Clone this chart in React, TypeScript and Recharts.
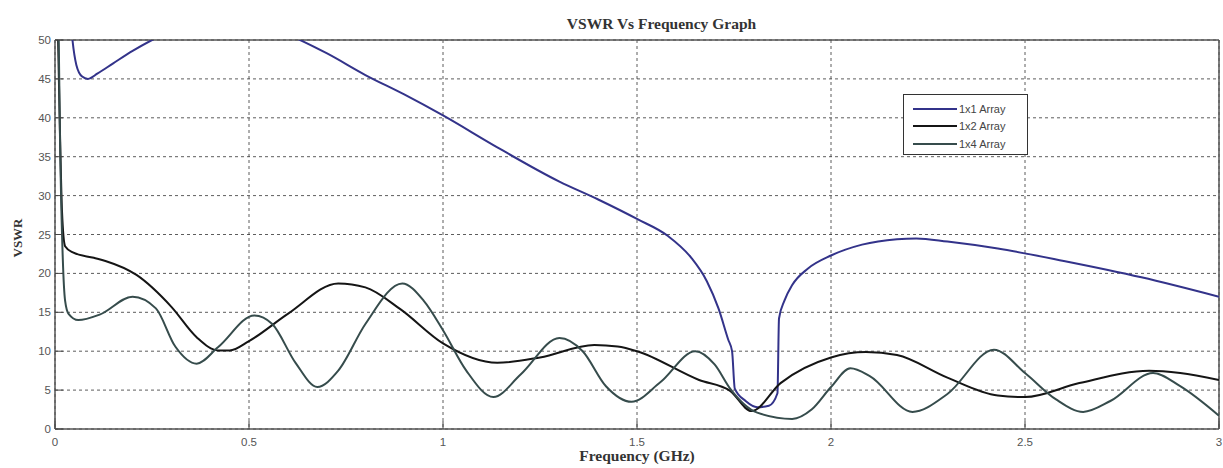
import React from 'react';
import { LineChart, Line, XAxis, YAxis, CartesianGrid, ReferenceLine } from 'recharts';

const xTicks = [0, 0.5, 1, 1.5, 2, 2.5, 3];
const yTicks = [0, 5, 10, 15, 20, 25, 30, 35, 40, 45, 50];

const freq1x1 = [0.035, 0.045, 0.055, 0.07, 0.085, 0.11, 0.15, 0.2, 0.25, 0.3, 0.4, 0.5, 0.6, 0.7, 0.8, 0.9, 1.0, 1.14, 1.3, 1.4, 1.5, 1.58, 1.64, 1.68, 1.71, 1.735, 1.745, 1.752, 1.78, 1.81, 1.84, 1.862, 1.866, 1.88, 1.9, 1.94, 2.0, 2.08, 2.17, 2.22, 2.3, 2.43, 2.6, 2.8, 3.0];
const vswr1x1 = [56, 50, 46.8, 45.3, 45, 45.7, 47, 48.6, 50, 51.2, 52.5, 52.5, 50.7, 48.3, 45.5, 43, 40.3, 36.2, 31.8, 29.5, 27, 24.8, 22, 19, 15.5, 11.5, 10, 5.2, 3.6, 2.8, 3.0, 4.6, 14.2, 16.5, 18.5, 20.6, 22.3, 23.7, 24.4, 24.5, 24.1, 23.2, 21.6, 19.5, 17];

const freq1x2 = [0.004, 0.012, 0.018, 0.026, 0.046, 0.1, 0.13, 0.21, 0.3, 0.365, 0.42, 0.45, 0.5, 0.6, 0.73, 0.8, 0.89, 1.0, 1.14, 1.25, 1.39, 1.45, 1.5, 1.66, 1.74, 1.795, 1.87, 2.0, 2.09, 2.17, 2.3, 2.43, 2.5, 2.64, 2.82, 2.9, 3.0];
const vswr1x2 = [60, 40, 28, 23.5, 22.7, 22, 21.6, 19.8, 15.7, 11.8, 10.1, 10.1, 11.3, 14.8, 18.7, 18.2, 15.4, 11, 8.5, 9.2, 10.8, 10.6, 10, 6.3, 4.9, 2.3, 5.9, 9.2, 9.9, 9.5, 6.6, 4.3, 4.1, 5.9, 7.5, 7.2, 6.3];

const freq1x4 = [0.007, 0.013, 0.02, 0.026, 0.035, 0.06, 0.115, 0.2, 0.26, 0.31, 0.365, 0.42, 0.514, 0.56, 0.62, 0.676, 0.73, 0.8, 0.895, 0.95, 1.0, 1.06, 1.13, 1.2, 1.3, 1.36, 1.42, 1.486, 1.56, 1.65, 1.7, 1.74, 1.81, 1.9, 1.95, 2.0, 2.05, 2.1, 2.21, 2.3, 2.42, 2.5, 2.58, 2.65, 2.72, 2.83, 2.9, 3.0];
const vswr1x4 = [60, 37, 22, 16.5, 14.8, 14, 14.7, 17, 15.5, 10.6, 8.4, 10.5, 14.6, 13.5, 8.5, 5.4, 7.5, 13.5, 18.7, 16.5, 12.7, 7.5, 4.1, 7, 11.7, 10, 5.5, 3.5, 6, 10, 8.3, 5.2, 2.1, 1.3, 2.5, 5.4, 7.8, 6.8, 2.2, 4.5, 10.2, 7.2, 3.8, 2.2, 3.6, 7.2, 5.5, 1.7];

const seriesNames = ['1x1 Array', '1x2 Array', '1x4 Array'];
const seriesColors = ['#33338a', '#151515', '#364c4c'];

const build = (f: number[], v: number[]) => f.map((x, i) => ({ f: x, v: v[i] }));
const data1x1 = build(freq1x1, vswr1x1);
const data1x2 = build(freq1x2, vswr1x2);
const data1x4 = build(freq1x4, vswr1x4);

const tickFont = { fontFamily: 'Liberation Sans, Arial, sans-serif', fontSize: 11.5, fill: '#555' };
const serif = 'Liberation Serif, Times New Roman, serif';

const XTick = (props: any) => {
  const { x, y, payload } = props;
  return (
    <g>
      <line x1={x} x2={x} y1={y} y2={y - 8} stroke="#444" strokeWidth={1} />
      <text x={x} y={y + 17} textAnchor="middle" style={tickFont}>{String(payload.value)}</text>
    </g>
  );
};

const YTick = (props: any) => {
  const { x, y, payload } = props;
  return (
    <g>
      <line x1={x} x2={x + 8} y1={y} y2={y} stroke="#444" strokeWidth={1} />
      <text x={x - 4} y={y + 4} textAnchor="end" style={tickFont}>{String(payload.value)}</text>
    </g>
  );
};

const LegendBox = () => (
  <div style={{ position: 'absolute', left: 903, top: 94, width: 125, height: 61, border: '1px solid #333', background: '#fff', boxSizing: 'border-box', paddingTop: 5 }}>
    {seriesNames.map((n, i) => (
      <div key={n} style={{ display: 'flex', alignItems: 'center', height: 17.5 }}>
        <div style={{ marginLeft: 9, width: 44, height: 2, background: seriesColors[i] }} />
        <span style={{ marginLeft: 2, fontFamily: 'Liberation Sans, Arial, sans-serif', fontSize: 11, color: '#444' }}>{n}</span>
      </div>
    ))}
  </div>
);

export default function App() {
  return (
    <div style={{ position: 'absolute', left: 0, top: 0, width: 1223, height: 468, background: '#fff', overflow: 'hidden' }}>
      <div style={{ position: 'absolute', left: 0, top: 0 }}>
        <LineChart width={1223} height={468} margin={{ top: 40, right: 4, bottom: 0, left: 0 }}>
          <CartesianGrid stroke="#333" strokeDasharray="3 3" strokeWidth={0.8} horizontalValues={yTicks} verticalValues={xTicks} />
          <XAxis type="number" dataKey="f" domain={[0, 3]} ticks={xTicks} allowDataOverflow height={39} tickSize={0} tickMargin={0} tick={<XTick />} axisLine={{ stroke: '#555', strokeWidth: 1.5 }} tickLine={false} interval={0} />
          <YAxis type="number" dataKey="v" domain={[0, 50]} ticks={yTicks} allowDataOverflow width={55} tickSize={0} tickMargin={0} tick={<YTick />} axisLine={{ stroke: '#555', strokeWidth: 1.5 }} tickLine={false} interval={0} />
          <ReferenceLine y={50} stroke="#555" strokeWidth={1.5} />
          <ReferenceLine x={3} stroke="#555" strokeWidth={1.5} />
          <Line data={data1x1} dataKey="v" name={seriesNames[0]} type="monotone" stroke={seriesColors[0]} strokeWidth={2} dot={false} isAnimationActive={false} />
          <Line data={data1x2} dataKey="v" name={seriesNames[1]} type="monotone" stroke={seriesColors[1]} strokeWidth={2} dot={false} isAnimationActive={false} />
          <Line data={data1x4} dataKey="v" name={seriesNames[2]} type="monotone" stroke={seriesColors[2]} strokeWidth={2} dot={false} isAnimationActive={false} />
        </LineChart>
      </div>
      <LegendBox />
      <div style={{ position: 'absolute', left: 0, top: 15, width: 1223, paddingLeft: 100, boxSizing: 'border-box', textAlign: 'center', fontFamily: serif, fontWeight: 'bold', fontSize: 15.5, color: '#333' }}>
        VSWR Vs Frequency Graph
      </div>
      <div style={{ position: 'absolute', left: 437, top: 447, width: 400, textAlign: 'center', fontFamily: serif, fontWeight: 'bold', fontSize: 15.5, color: '#333' }}>
        Frequency (GHz)
      </div>
      <div style={{ position: 'absolute', left: 18, top: 238, transform: 'translate(-50%, -50%) rotate(-90deg)', fontFamily: serif, fontWeight: 'bold', fontSize: 13, color: '#333' }}>
        VSWR
      </div>
    </div>
  );
}
